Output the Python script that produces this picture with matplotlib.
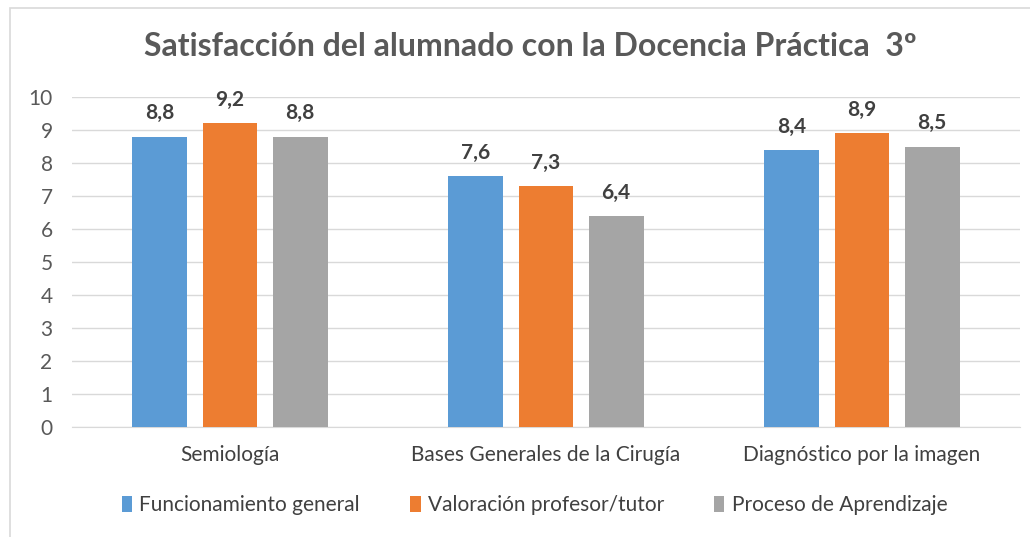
import matplotlib
matplotlib.use("Agg")
import matplotlib.pyplot as plt
from matplotlib.patches import Rectangle
import numpy as np

categories = ["Semiología", "Bases Generales de la Cirugía", "Diagnóstico por la imagen"]
series_names = ["Funcionamiento general", "Valoración profesor/tutor", "Proceso de Aprendizaje"]
funcionamiento = [8.8, 7.6, 8.4]
valoracion = [9.2, 7.3, 8.9]
proceso = [8.8, 6.4, 8.5]
colors = ["#5B9BD5", "#ED7D31", "#A5A5A5"]
yticks = list(range(0, 11))

plt.rcParams['font.family'] = ['Lato', 'DejaVu Sans']

fig = plt.figure(figsize=(10.30, 5.37), dpi=100)
fig.patch.set_facecolor("white")
# chart border
fig.add_artist(Rectangle((10/1030, -0.05), 1.2, 1 - 8/537 + 0.05, transform=fig.transFigure,
                         fill=False, edgecolor="#D9D9D9", linewidth=1.2))

ax = fig.add_axes([72/1030, 1 - 427/537, 948/1030, 330/537])
x = np.arange(len(categories))
bw = 0.174
step = 0.222
series = [funcionamiento, valoracion, proceso]
for i, (vals, name, c) in enumerate(zip(series, series_names, colors)):
    bars = ax.bar(x + (i - 1) * step, vals, bw, color=c, label=name, zorder=3)
    for b, v in zip(bars, vals):
        ax.text(b.get_x() + b.get_width() / 2, v + 0.4, f"{v:.1f}".replace(".", ","),
                ha="center", va="bottom", fontsize=15, fontweight="bold", color="#404040")

ax.set_xlim(-0.5, len(categories) - 0.5)
ax.set_ylim(0, 10)
ax.set_yticks(yticks)
ax.set_yticklabels([str(t) for t in yticks], fontsize=15, color="#595959")
ax.set_xticks(x)
ax.set_xticklabels(categories, fontsize=15, color="#404040")
ax.grid(axis="y", color="#D9D9D9", linewidth=1.0, zorder=0)
for s in ["top", "right", "left"]:
    ax.spines[s].set_visible(False)
ax.spines["bottom"].set_color("#D9D9D9")
ax.tick_params(axis="both", length=0)
ax.tick_params(axis="x", pad=13)
ax.tick_params(axis="y", pad=14)

fig.text(530/1030, 1 - 47/537, "Satisfacción del alumnado con la Docencia Práctica  3º",
         ha="center", va="center", fontsize=23, fontweight="bold", color="#595959")

leg = fig.legend(loc="center", bbox_to_anchor=(0.519, 1 - 505/537), ncol=3, frameon=False,
                 prop={"size": 15}, handlelength=0.5, handleheight=0.8,
                 handletextpad=0.35, columnspacing=2.4)
for t in leg.get_texts():
    t.set_color("#404040")

fig.savefig("out.png", dpi=100, facecolor="white")
